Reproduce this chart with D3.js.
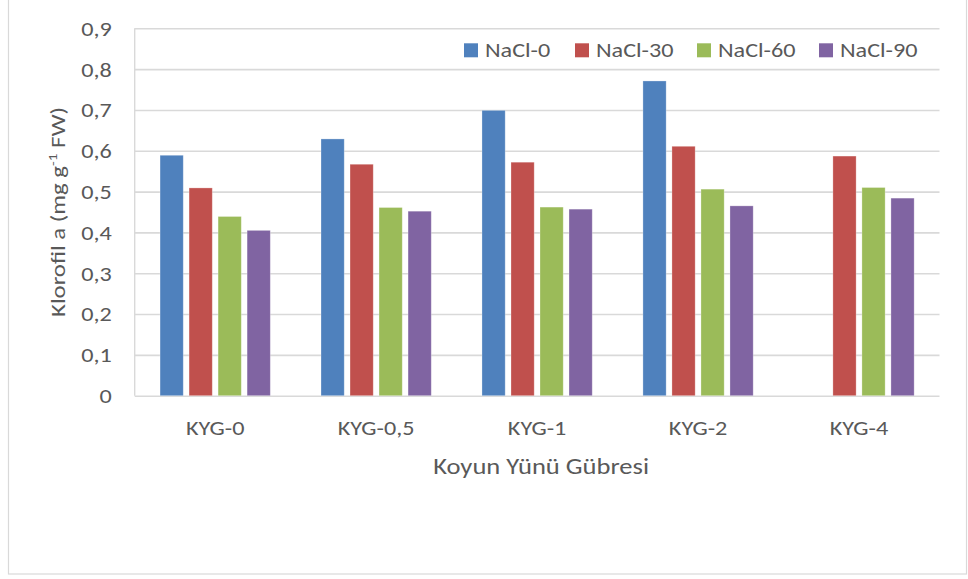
<!DOCTYPE html>
<html>
<head>
<meta charset="utf-8">
<script src="https://cdn.jsdelivr.net/npm/d3@7"></script>
<style>
  html, body { margin: 0; padding: 0; background: #fff; }
  svg { display: block; }
  text { font-family: Carlito, Calibri, Lato, "Open Sans", sans-serif; fill: #595959; }
</style>
</head>
<body>
<svg id="chart" width="968" height="579"></svg>
<script>
// Chlorophyll a content by sheep-wool fertilizer dose and salt level
const categories = ["KYG-0", "KYG-0,5", "KYG-1", "KYG-2", "KYG-4"];
const seriesNames = ["NaCl-0", "NaCl-30", "NaCl-60", "NaCl-90"];
const nacl0  = [0.589, 0.629, 0.699, 0.771, 0];
const nacl30 = [0.509, 0.567, 0.572, 0.611, 0.587];
const nacl60 = [0.439, 0.461, 0.462, 0.506, 0.510];
const nacl90 = [0.405, 0.452, 0.457, 0.465, 0.484];
const yTicks = [0, 0.1, 0.2, 0.3, 0.4, 0.5, 0.6, 0.7, 0.8, 0.9];
const colors = ["#4F81BD", "#C0504D", "#9BBB59", "#8064A2"];

const seriesValues = [nacl0, nacl30, nacl60, nacl90];

const svg = d3.select("#chart");
const FONT = 20.5;   // base label size
const WIDEN = 1.18;  // horizontal widening of label glyphs

// places a label at (x, y), optionally rotated, with widened glyphs
function label(parent, x, y, txt, opts = {}) {
  const rot = opts.rotate ? ` rotate(${opts.rotate})` : "";
  return parent.append("text")
    .attr("transform", `translate(${x},${y})${rot} scale(${WIDEN},1)`)
    .attr("text-anchor", opts.anchor || "start")
    .attr("dy", opts.dy || 0)
    .attr("font-size", opts.size || FONT)
    .text(txt);
}

// outer chart frame
svg.append("rect")
  .attr("x", 8.5).attr("y", -2).attr("width", 958).attr("height", 576)
  .attr("fill", "#fff").attr("stroke", "#d9d9d9").attr("stroke-width", 1.2);

const plot = { left: 134.7, right: 939.5, top: 28.3, bottom: 395.7 };

const x0 = d3.scaleBand().domain(categories)
  .range([plot.left, plot.right]).paddingInner(0.315).paddingOuter(0.1575);
const x1 = d3.scaleBand().domain(seriesNames)
  .range([0, x0.bandwidth()]).paddingInner(0.2).paddingOuter(0);
const y = d3.scaleLinear().domain([0, 0.9]).range([plot.bottom, plot.top]);

const fmt = v => v === 0 ? "0" : d3.format(".1f")(v).replace(".", ",");

// horizontal gridlines
const yAxis = d3.axisLeft(y).tickValues(yTicks).tickFormat("")
  .tickSize(-(plot.right - plot.left));
const gy = svg.append("g").attr("transform", `translate(${plot.left},0)`).call(yAxis);
gy.select(".domain").remove();
gy.selectAll(".tick line").attr("stroke", "#d9d9d9").attr("stroke-width", 1.6);

// vertical axis line
svg.append("line")
  .attr("x1", plot.left).attr("x2", plot.left)
  .attr("y1", y(0.9)).attr("y2", y(0))
  .attr("stroke", "#d9d9d9").attr("stroke-width", 1.4);

// value labels
const yLabels = svg.append("g");
yTicks.forEach(v => label(yLabels, plot.left - 23, y(v), fmt(v), { anchor: "end", dy: "0.36em" }));

// bars
const groups = svg.append("g").selectAll("g")
  .data(categories).join("g")
  .attr("transform", d => `translate(${x0(d)},0)`);

groups.selectAll("rect")
  .data((c, i) => seriesNames.map((s, j) => ({ s, j, v: seriesValues[j][i] })))
  .join("rect")
  .filter(d => d.v > 0)
  .attr("x", d => x1(d.s))
  .attr("y", d => y(d.v))
  .attr("width", x1.bandwidth())
  .attr("height", d => y(0) - y(d.v))
  .attr("fill", d => colors[d.j])
  .attr("stroke", "#ffffff").attr("stroke-opacity", 0.35).attr("stroke-width", 0.8);

// category labels
const xLabels = svg.append("g");
categories.forEach(c => label(xLabels, x0(c) + x0.bandwidth() / 2, 435, c, { anchor: "middle" }));

// axis titles
label(svg, (plot.left + plot.right) / 2 + 4, 474, "Koyun Yünü Gübresi", { anchor: "middle", size: 22.5 });

const yTitle = label(svg, 65, 212, null, { anchor: "middle", rotate: -90, size: 21 });
yTitle.append("tspan").text("Klorofil a (mg g");
yTitle.append("tspan").attr("font-size", 13).attr("dy", -8).text("-1");
yTitle.append("tspan").attr("dy", 8).text(" FW)");

// legend
const legendX = [464, 575, 697, 819];
const legend = svg.append("g");
seriesNames.forEach((s, i) => {
  legend.append("rect")
    .attr("x", legendX[i]).attr("y", 43.3).attr("width", 14).attr("height", 14)
    .attr("fill", colors[i]);
  label(legend, legendX[i] + 21, 57.3, s);
});
</script>
</body>
</html>
